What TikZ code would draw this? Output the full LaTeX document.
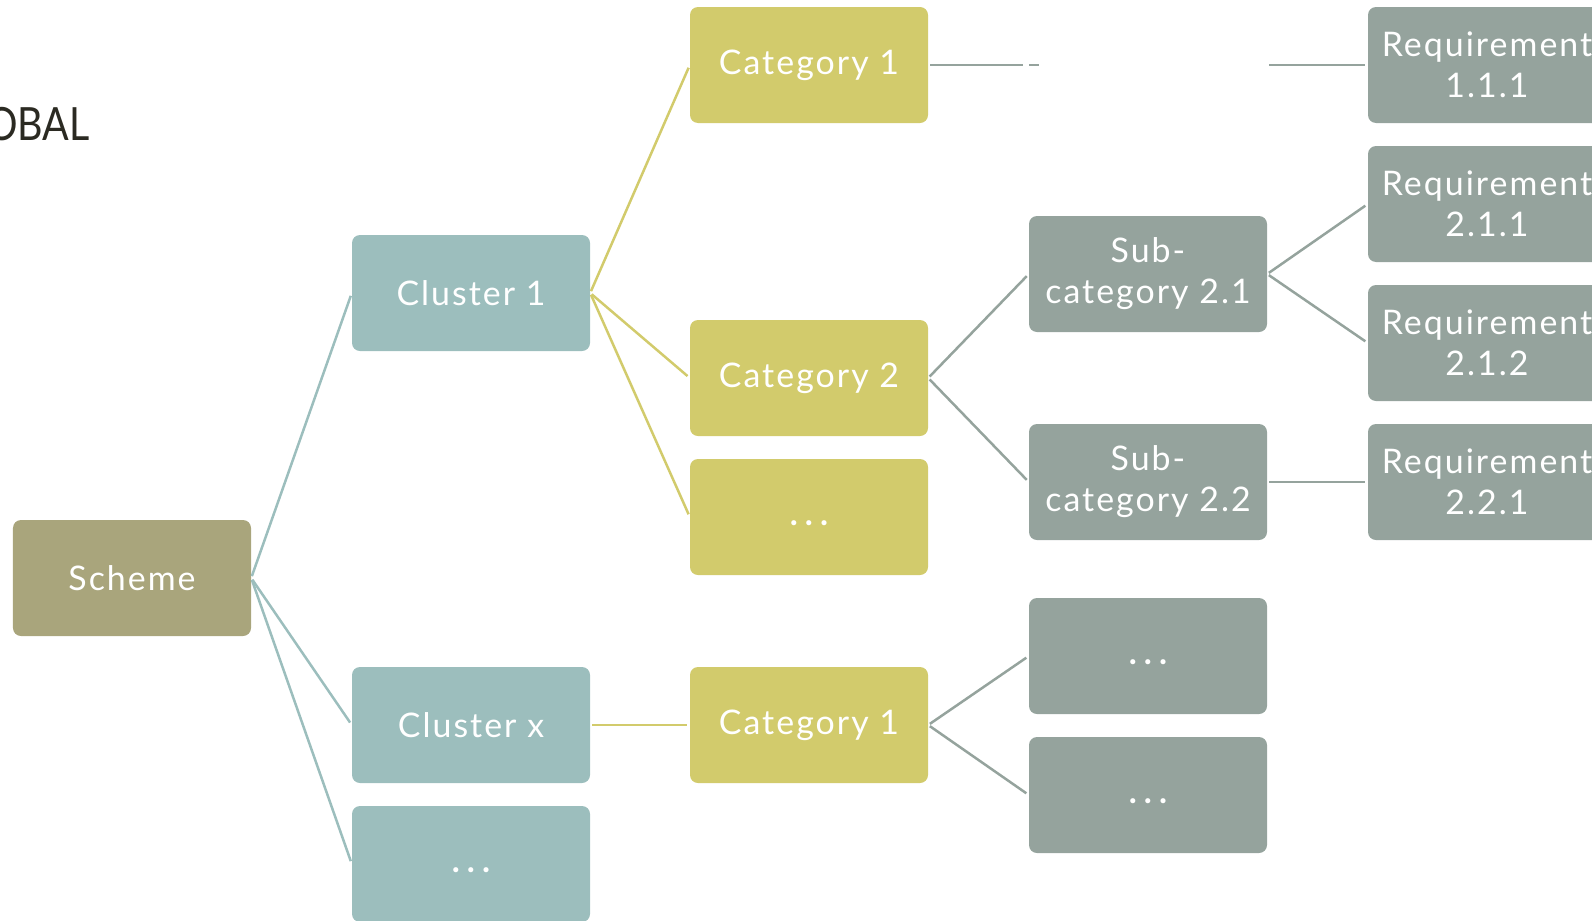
\documentclass[tikz,border=0pt]{standalone}
\usepackage{fontspec}
\setmainfont{Lato}[LetterSpace=6]
\newfontfamily\titlefont{Lato}[FakeStretch=0.86]
\definecolor{schemec}{HTML}{A9A57C}
\definecolor{clusterc}{HTML}{9CBEBD}
\definecolor{catc}{HTML}{D2CB6C}
\definecolor{subc}{HTML}{95A39D}
\definecolor{titlec}{HTML}{2B2A22}
\newcommand{\moredots}{\vphantom{x}{\bfseries.\hspace{7bp}.\hspace{7bp}.}}
\tikzset{
  box/.style={rectangle, rounded corners=8bp, minimum width=238bp, minimum height=116bp,
    text=white, align=center, inner sep=0pt, font=\fontsize{34}{41}\selectfont},
  schemebox/.style={box, fill=schemec},
  clusterbox/.style={box, fill=clusterc},
  catbox/.style={box, fill=catc},
  subbox/.style={box, fill=subc},
  link/.style={line width=2.5bp},
}
\begin{document}
\begin{tikzpicture}[x=1bp,y=-1bp]
\useasboundingbox (0,0) rectangle (1592,920);
\clip (0,0) rectangle (1592,920);
\node[anchor=base east, text=titlec, font=\titlefont\fontsize{46}{54}\selectfont, inner sep=0pt] (title) at (90,140) {OBAL};

\node[schemebox] (scheme) at (132,578) {Scheme};
\node[clusterbox] (cl1) at (471,293) {Cluster 1};
\node[clusterbox] (clx) at (471,725) {Cluster x};
\node[clusterbox] (cld) at (471,864) {\moredots};
\node[catbox] (cat1) at (809,65) {Category 1};
\node[catbox] (cat2) at (809,378) {Category 2};
\node[catbox] (catd) at (809,517) {\moredots};
\node[catbox] (cat1b) at (809,725) {Category 1};
\coordinate (sub11) at (1148,65);
\node[subbox] (sub21) at (1148,274) {Sub-\\category 2.1};
\node[subbox] (sub22) at (1148,482) {Sub-\\category 2.2};
\node[subbox] (subd1) at (1148,656) {\moredots};
\node[subbox] (subd2) at (1148,795) {\moredots};
\node[subbox] (req111) at (1487,65) {Requirement\\1.1.1};
\node[subbox] (req211) at (1487,204) {Requirement\\2.1.1};
\node[subbox] (req212) at (1487,343) {Requirement\\2.1.2};
\node[subbox] (req221) at (1487,482) {Requirement\\2.2.1};

\begin{scope}[link, draw=clusterc, shorten <=2bp, shorten >=3bp]
\draw (scheme.east) -- (cl1.west);
\draw (scheme.east) -- (clx.west);
\draw (scheme.east) -- (cld.west);
\end{scope}
\begin{scope}[link, draw=catc, shorten <=2bp, shorten >=3bp]
\draw (cl1.east) -- (cat1.west);
\draw (cl1.east) -- (cat2.west);
\draw (cl1.east) -- (catd.west);
\draw (clx.east) -- (cat1b.west);
\end{scope}
\begin{scope}[link, draw=subc, shorten <=2bp, shorten >=3bp]
\draw (cat1.east) -- ([xshift=-122bp]sub11);
\draw[shorten <=0bp, shorten >=0bp] ([xshift=-119bp]sub11) -- ([xshift=-109bp]sub11);
\draw[shorten <=0bp] ([xshift=121bp]sub11) -- (req111.west);
\draw (cat2.east) -- (sub21.west);
\draw (cat2.east) -- (sub22.west);
\draw (cat1b.east) -- (subd1.west);
\draw (cat1b.east) -- (subd2.west);
\draw (sub21.east) -- (req211.west);
\draw (sub21.east) -- (req212.west);
\draw (sub22.east) -- (req221.west);
\end{scope}
\end{tikzpicture}
\end{document}
